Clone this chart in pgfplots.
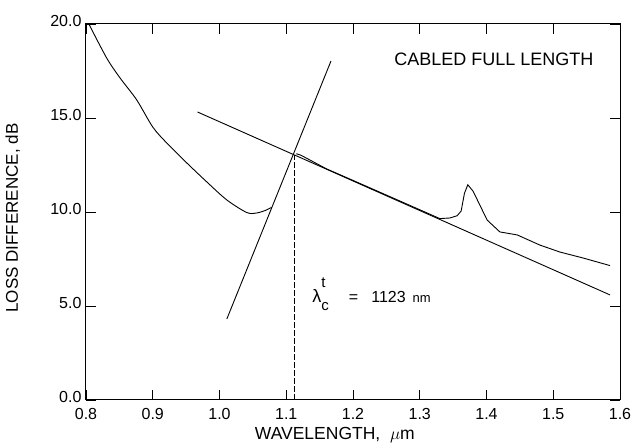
\documentclass[border=0pt]{standalone}
\usepackage{fontspec}
\setmainfont{Liberation Sans}
\usepackage{pgfplots}
\pgfplotsset{compat=1.18}
\begin{document}
\begin{tikzpicture}[x=1pt,y=1pt]
\path[use as bounding box] (-86,-43) rectangle (550,400);
\begin{axis}[
  at={(0,0)}, anchor=south west,
  scale only axis, width=534pt, height=376pt,
  xmin=0.8, xmax=1.6, ymin=0, ymax=20,
  xtick={0.8,0.9,1.0,1.1,1.2,1.3,1.4,1.5,1.6},
  ytick={0,5,10,15,20},
  tick align=inside,
  major tick length=10pt,
  every tick/.style={black, line width=0.9pt},
  axis line style={line width=1pt},
  /pgf/number format/assume math mode=true,
  tick label style={font=\fontsize{16}{18}\selectfont},
  xticklabel style={yshift=-5pt, /pgf/number format/fixed, /pgf/number format/fixed zerofill, /pgf/number format/precision=1},
  yticklabel style={xshift=-1pt, yshift=3pt, /pgf/number format/fixed, /pgf/number format/fixed zerofill, /pgf/number format/precision=1},
  xlabel={WAVELENGTH,\ \ $\mu$m},
  ylabel={LOSS DIFFERENCE, dB},
  xlabel style={font=\fontsize{17.5}{20}\selectfont, at={(axis description cs:0.466,-0.093)}, anchor=center},
  ylabel style={font=\fontsize{17}{20}\selectfont, at={(axis description cs:-0.137,0.484)}, anchor=center},
  clip=false,
]
% measured curve, short-wavelength part
\addplot[black, line width=0.9pt, smooth] coordinates {
 (0.805,19.95) (0.831,18.19) (0.851,17.13) (0.876,15.96) (0.900,14.52)
 (0.921,13.67) (0.951,12.61) (0.981,11.60) (1.011,10.64) (1.041,9.97)
 (1.056,9.95) (1.070,10.10) (1.078,10.25)
};
% measured curve, long-wavelength part
\addplot[black, line width=0.9pt] coordinates {
 (1.115,13.10) (1.122,13.02) (1.160,12.30) (1.200,11.68) (1.250,10.90)
 (1.300,10.12) (1.330,9.65) (1.345,9.68) (1.356,9.80) (1.362,10.05)
 (1.367,11.0) (1.372,11.45) (1.380,11.10) (1.390,10.37) (1.401,9.57)
 (1.420,8.94) (1.446,8.78) (1.480,8.24) (1.510,7.87) (1.545,7.55) (1.585,7.15)
};
% steep fitted line
\addplot[black, line width=0.9pt] coordinates {(1.011,4.31) (1.167,18.03)};
% sloping fitted line
\addplot[black, line width=0.9pt] coordinates {(0.967,15.32) (1.585,5.59)};
% cutoff marker
\addplot[black, line width=0.8pt, dash pattern=on 6pt off 2pt] coordinates {(1.112,0) (1.112,13.04)};
\node[font=\fontsize{18}{20}\selectfont] at (axis cs:1.411,18.14) {CABLED FULL LENGTH};
\node[anchor=base west, inner sep=0pt, font=\fontsize{16}{18}\selectfont] at (axis cs:1.139,5.2)
  {{\fontsize{18}{20}\selectfont λ}\rlap{\raisebox{0.95em}{\fontsize{15}{17}\selectfont t}}\raisebox{-0.5em}{\fontsize{15}{17}\selectfont c}\hspace{20pt}=\hspace{13pt}1123\hspace{7pt}{\fontsize{13}{15}\selectfont nm}};
\end{axis}
\end{tikzpicture}
\end{document}
